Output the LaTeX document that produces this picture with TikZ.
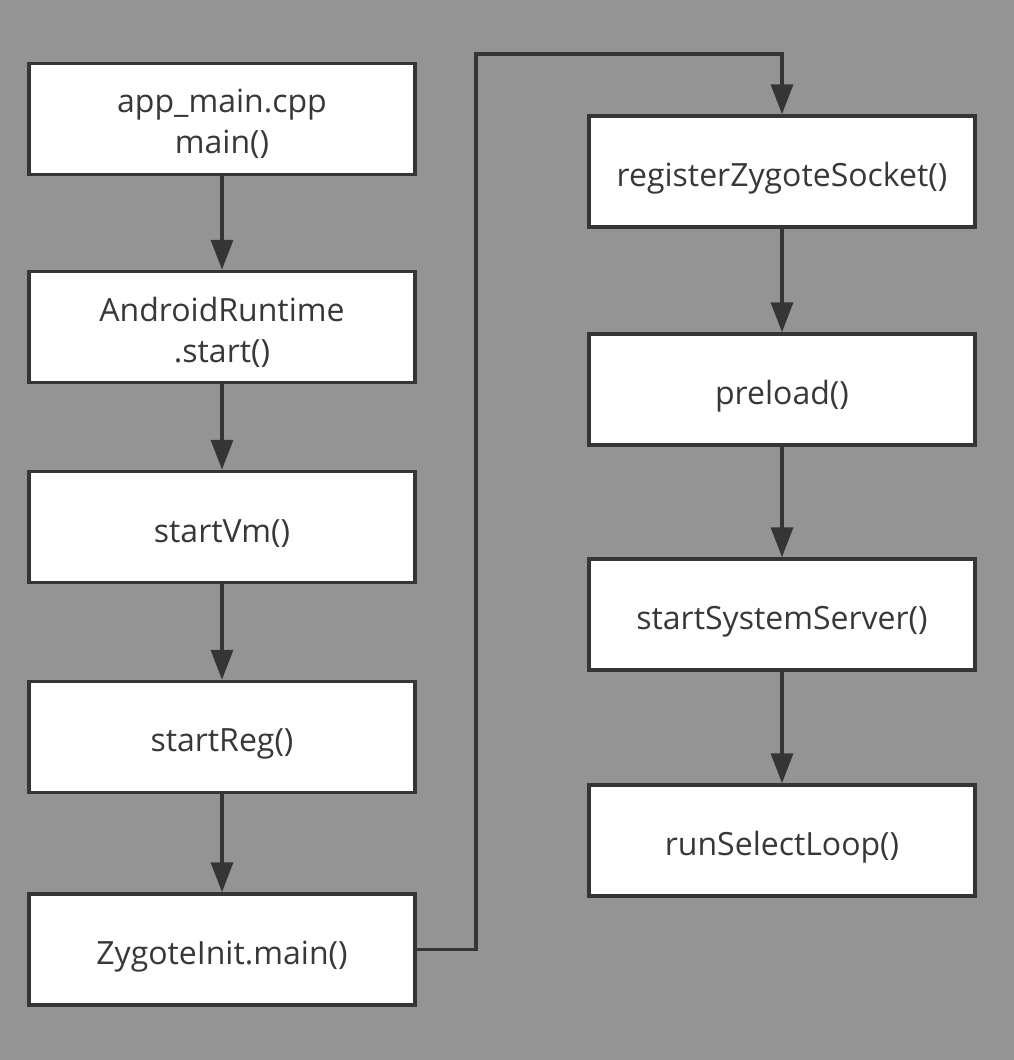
\documentclass[tikz,border=0pt]{standalone}
\usepackage{fontspec}
\setmainfont{Open Sans}
\usetikzlibrary{arrows.meta}
\definecolor{bg}{HTML}{949494}
\definecolor{ln}{HTML}{353535}
\definecolor{tx}{HTML}{383838}
\tikzset{
  box/.style={draw=ln, line width=3.5pt, fill=white, minimum width=386pt, minimum height=111pt,
    inner sep=0pt, align=center, font=\fontsize{32}{41}\selectfont, text=tx},
  conn/.style={draw=ln, line width=3.5pt, -{Triangle[length=30pt,width=22pt]}}
}
\newcommand{\dn}[2]{\raisebox{-#1pt}[\height][\depth]{#2}}
\begin{document}
\begin{tikzpicture}[x=1pt,y=-1pt]
\fill[bg] (0,0) rectangle (1014,1060);
\useasboundingbox (0,0) rectangle (1014,1060);
\node[box] (a) at (222,119) {\dn{5}{app\_main.cpp}\\\dn{5}{main()}};
\node[box] (b) at (222,327) {\dn{5}{AndroidRuntime}\\\dn{5}{.start()}};
\node[box] (c) at (222,527) {\dn{7}{startVm()}};
\node[box] (d) at (222,737) {\dn{7}{startReg()}};
\node[box] (e) at (222,949.5) {\dn{7}{ZygoteInit.main()}};
\node[box] (f) at (782,171.5) {\dn{7}{registerZygoteSocket()}};
\node[box] (g) at (782,389.5) {\dn{7}{preload()}};
\node[box] (h) at (782,614.5) {\dn{7}{startSystemServer()}};
\node[box] (i) at (782,840.5) {\dn{7}{runSelectLoop()}};
\coordinate (p1) at (476,949.5);
\coordinate (p2) at (476,54);
\coordinate (p3) at (782,54);
\draw[conn] (a) -- (b);
\draw[conn] (b) -- (c);
\draw[conn] (c) -- (d);
\draw[conn] (d) -- (e);
\draw[conn] (e.east) -- (p1) -- (p2) -- (p3) -- (f.north);
\draw[conn] (f) -- (g);
\draw[conn] (g) -- (h);
\draw[conn] (h) -- (i);
\end{tikzpicture}
\end{document}
